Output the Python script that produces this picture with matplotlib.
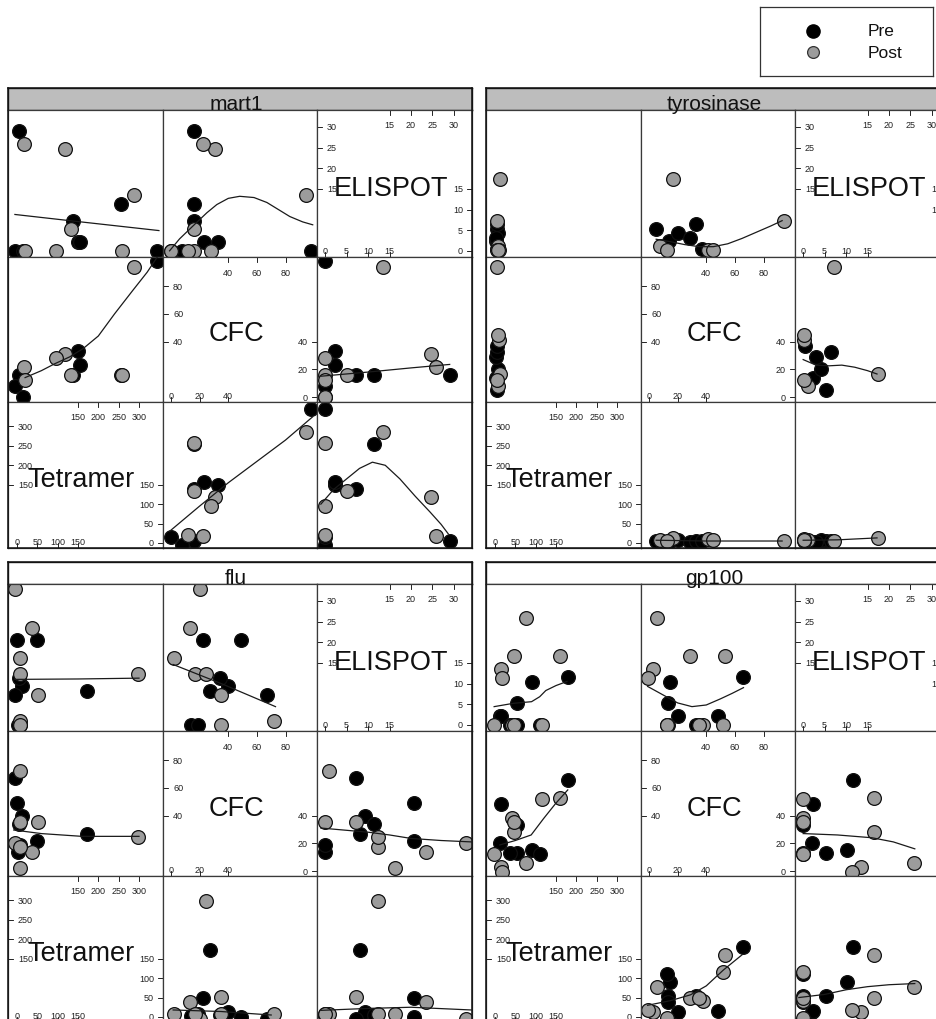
import numpy as np
import matplotlib
matplotlib.use("Agg")
import matplotlib.pyplot as plt

plt.rcParams['font.family'] = ['Liberation Sans', 'DejaVu Sans']

nan = np.nan

# ---------------- data ----------------
variables = ['Tetramer', 'CFC', 'ELISPOT']
groups = ['Pre', 'Post']

# mart1
mart1_group = ['Pre', 'Post', 'Post', 'Pre', 'Pre', 'Post', 'Pre', 'Pre',
               'Post', 'Post', 'Pre', 'Post', 'Pre', 'Pre', 'Post', 'Post']
mart1_tetramer = [345, 287, 258, 256, 138, 133, 149, 156, 118, 18, 4, 95, -6, 16, 20, nan]
mart1_cfc = [98, 94, 16, 16, 16, 16, 33, 23, 31, 22, 16, 28, 8, 0, 12, 0]
mart1_elispot = [0, 13.4, 0, 11.3, 7.1, 5.2, 2.2, 2.2, 24.6, 25.8, 29, 0, 0, 0, 0, 0]

# tyrosinase
tyr_group = ['Pre', 'Pre', 'Pre', 'Pre', 'Pre', 'Pre',
             'Post', 'Post', 'Post', 'Post', 'Post', 'Post']
tyr_tetramer = [5, 3, 8, 2, 6, 4, 6, 13, 8, 4, 10, 7]
tyr_cfc = [5, 13.7, 20, 28.8, 32.5, 37, 94, 16.6, 8, 12.5, 41, 45]
tyr_elispot = [5.3, 2.4, 4.2, 3.1, 6.4, 0.4, 7.2, 17.5, 1.2, 0.2, 0.3, 0.3]

# flu
flu_group = ['Pre'] * 8 + ['Post'] * 8
flu_tetramer = [0, 50, 12, 172, -5, 5, 3, 8, -5, 38, 7, 7, 298, 52, 7, 8]
flu_cfc = [49, 22, 40, 27, 67, 34, 14, 19, 20, 13.5, 2, 17, 24.5, 35, 72, 35]
flu_elispot = [20.6, 20.6, 9.3, 8.1, 7.1, 11.4, 0, 0, 32.9, 23.4, 16.3, 12.2, 12.2, 7.1, 1, 0]

# gp100
gp_group = ['Pre'] * 8 + ['Post'] * 9
gp_tetramer = [180, 90, 54, 12, 15, 55, 110, 38, 76, 48, 160, 14, 17, -3, 42, 115, 48]
gp_cfc = [65.7, 15, 13, 20, 48, 33, 12.5, 13, 5.5, 28.5, 53, 3, -1, 12.5, 38, 52, 35]
gp_elispot = [11.5, 10.3, 5.3, 2.1, 2.2, 0, 0, 0, 25.9, 16.6, 16.6, 13.5, 11.3, 0, 0, 0, 0]

# smoother curves (x values, y values), keyed (x variable, y variable)
mart1_fit_tet_eli = ([-5, 130, 349], [8.8, 7.3, 4.9])
mart1_fit_cfc_eli = ([-1, 6, 15, 25, 32, 40, 48, 58, 67, 75, 83, 92, 99],
                     [0, 2.9, 5.9, 9.2, 11.2, 12.7, 13.2, 12.9, 11.7, 10, 8.3, 7, 6.3])
mart1_fit_tet_cfc = ([20, 60, 93, 130, 163, 200, 240, 285, 320, 345],
                     [14, 19, 24, 29, 35, 44, 60, 77, 90, 101])
mart1_fit_cfc_tet = ([-1, 20, 40, 60, 80, 99], [30, 95, 155, 210, 265, 325])
mart1_fit_eli_cfc = ([-1, 10, 20, 29], [15, 18, 21, 23.5])
mart1_fit_eli_tet = ([-1, 2, 5, 8, 11, 14, 17.4, 21, 24.4, 27, 28.7],
                     [100, 138, 165, 192, 208, 200, 165, 120, 80, 48, 23])

tyr_fit_cfc_eli = ([5, 15, 25, 35, 45, 55, 65, 75, 85, 93],
                   [2.8, 2.2, 1.5, 1.0, 1.0, 1.7, 3, 4.5, 6, 7.3])
tyr_fit_eli_cfc = ([0, 3, 6, 9, 12, 15, 17.2], [27, 23, 22.5, 23, 21.5, 19, 16.6])
tyr_fit_cfc_tet = ([5, 40, 93], [7, 5, 5])
tyr_fit_eli_tet = ([0, 8, 17.2], [7, 8, 13])

flu_fit_tet_eli = ([-5, 150, 300], [11, 11.1, 11.3])
flu_fit_cfc_eli = ([1.5, 35, 73], [14.6, 10, 4.4])
flu_fit_tet_cfc = ([-8, 60, 160, 300], [29.6, 27, 25, 25])
flu_fit_eli_cfc = ([-1, 10, 15, 20, 27, 34], [31, 28, 26, 23.5, 22, 21])
flu_fit_cfc_tet = ([1.5, 35, 70], [18, 14, 5])
flu_fit_eli_tet = ([-1, 10, 20, 34], [17, 22, 25, 18])

gp_fit_tet_eli = ([-2, 45, 90, 110, 125, 150, 177], [4.4, 5.2, 5.6, 6.8, 8.3, 9.5, 10.5])
gp_fit_cfc_eli = ([-1, 10, 20, 30, 40, 50, 58, 66], [9.3, 7.2, 5.3, 4.4, 4.8, 6.3, 7.6, 9])
gp_fit_tet_cfc = ([12, 50, 89, 120, 150, 179], [18.8, 22, 26, 38, 49, 58.5])
gp_fit_eli_cfc = ([0, 8, 16, 21, 26], [27, 26, 24, 21, 16])
gp_fit_cfc_tet = ([-1, 15, 29, 40, 52, 65], [30, 42, 57, 80, 121, 160])
gp_fit_eli_tet = ([-1, 5, 10, 15, 20, 26], [50, 58, 70, 78, 83, 86])

# axis scales (shared by all panels)
xlims = {'Tetramer': (-22, 359), 'CFC': (-5.6, 102), 'ELISPOT': (-1.9, 34.2)}
ylims = {'Tetramer': (-13, 363), 'CFC': (-3.6, 101), 'ELISPOT': (-1.5, 34.1)}
diag_low = {'Tetramer': [0, 50, 100, 150], 'CFC': [0, 20, 40], 'ELISPOT': [0, 5, 10, 15]}
diag_high = {'Tetramer': [150, 200, 250, 300], 'CFC': [40, 60, 80], 'ELISPOT': [15, 20, 25, 30]}

# ---------------- styling / layout ----------------
W, H = 936, 1020
fig = plt.figure(figsize=(W / 100, H / 100), dpi=100)

colors = {'Pre': '#000000', 'Post': '#9c9c9c'}
rows_var = ['ELISPOT', 'CFC', 'Tetramer']   # y variable, top to bottom
cols_var = ['Tetramer', 'CFC', 'ELISPOT']   # x variable, left to right


def add_px_axes(x0, y0, x1, y1, **kw):
    return fig.add_axes([x0 / W, 1 - y1 / H, (x1 - x0) / W, (y1 - y0) / H], **kw)


panels = [
    dict(name='mart1', xs=[8, 163, 317, 472], strip=(89, 111), ys=[111, 258, 403, 549],
         strip_col='#bdbdbd', T=mart1_tetramer, C=mart1_cfc, E=mart1_elispot, G=mart1_group,
         fits={('Tetramer', 'ELISPOT'): mart1_fit_tet_eli, ('CFC', 'ELISPOT'): mart1_fit_cfc_eli,
               ('Tetramer', 'CFC'): mart1_fit_tet_cfc, ('CFC', 'Tetramer'): mart1_fit_cfc_tet,
               ('ELISPOT', 'CFC'): mart1_fit_eli_cfc, ('ELISPOT', 'Tetramer'): mart1_fit_eli_tet}),
    dict(name='tyrosinase', xs=[486, 641, 795, 950], strip=(89, 111), ys=[111, 258, 403, 549],
         strip_col='#bdbdbd', T=tyr_tetramer, C=tyr_cfc, E=tyr_elispot, G=tyr_group,
         fits={('CFC', 'ELISPOT'): tyr_fit_cfc_eli, ('ELISPOT', 'CFC'): tyr_fit_eli_cfc,
               ('CFC', 'Tetramer'): tyr_fit_cfc_tet, ('ELISPOT', 'Tetramer'): tyr_fit_eli_tet}),
    dict(name='flu', xs=[8, 163, 317, 472], strip=(563, 585), ys=[585, 732, 877, 1023],
         strip_col='#ffffff', T=flu_tetramer, C=flu_cfc, E=flu_elispot, G=flu_group,
         fits={('Tetramer', 'ELISPOT'): flu_fit_tet_eli, ('CFC', 'ELISPOT'): flu_fit_cfc_eli,
               ('Tetramer', 'CFC'): flu_fit_tet_cfc, ('CFC', 'Tetramer'): flu_fit_cfc_tet,
               ('ELISPOT', 'CFC'): flu_fit_eli_cfc, ('ELISPOT', 'Tetramer'): flu_fit_eli_tet}),
    dict(name='gp100', xs=[486, 641, 795, 950], strip=(563, 585), ys=[585, 732, 877, 1023],
         strip_col='#ffffff', T=gp_tetramer, C=gp_cfc, E=gp_elispot, G=gp_group,
         fits={('Tetramer', 'ELISPOT'): gp_fit_tet_eli, ('CFC', 'ELISPOT'): gp_fit_cfc_eli,
               ('Tetramer', 'CFC'): gp_fit_tet_cfc, ('CFC', 'Tetramer'): gp_fit_cfc_tet,
               ('ELISPOT', 'CFC'): gp_fit_eli_cfc, ('ELISPOT', 'Tetramer'): gp_fit_eli_tet}),
]

TICK_FS = 6.5
NAME_FS = 19.5
EDGE = '#3a3a3a'


def style_cell(ax):
    ax.set_xticks([])
    ax.set_yticks([])
    for s in ax.spines.values():
        s.set_color(EDGE)
        s.set_linewidth(0.9)


def draw_diag(ax, var, w, h):
    lo, hi = diag_low[var], diag_high[var]
    tx = ax.get_xaxis_transform()
    ty = ax.get_yaxis_transform()
    tl = 5.0
    for v in lo:
        ax.plot([v, v], [0, tl / h], transform=tx, color='k', lw=0.6, clip_on=False)
        ax.text(v, 6.5 / h, str(v), transform=tx, ha='center', va='center', fontsize=TICK_FS, color='#222222')
        ax.plot([1 - tl / w, 1], [v, v], transform=ty, color='k', lw=0.6, clip_on=False)
        ax.text(1 - 9 / w, v, str(v), transform=ty, ha='right', va='center', fontsize=TICK_FS, color='#222222')
    for v in hi:
        ax.plot([v, v], [1 - tl / h, 1], transform=tx, color='k', lw=0.6, clip_on=False)
        ax.text(v, 1 - 15 / h, str(v), transform=tx, ha='center', va='center', fontsize=TICK_FS, color='#222222')
        ax.plot([0, tl / w], [v, v], transform=ty, color='k', lw=0.6, clip_on=False)
        ax.text(10 / w, v, str(v), transform=ty, ha='left', va='center', fontsize=TICK_FS, color='#222222')
    ax.text(0.5 - 4 / w, 0.5 - 4 / h, var, transform=ax.transAxes, ha='center', va='center',
            fontsize=NAME_FS, color='#111111')


for p in panels:
    xs, ys = p['xs'], p['ys']
    data = {'Tetramer': np.array(p['T'], float), 'CFC': np.array(p['C'], float),
            'ELISPOT': np.array(p['E'], float)}
    grp = np.array(p['G'])
    # strip
    sax = add_px_axes(xs[0], p['strip'][0], xs[3], p['strip'][1])
    sax.set_facecolor(p['strip_col'])
    sax.set_xticks([])
    sax.set_yticks([])
    for s in sax.spines.values():
        s.set_color('#222222')
        s.set_linewidth(1.0)
    for r in range(3):
        for c in range(3):
            ax = add_px_axes(xs[c], ys[r], xs[c + 1], ys[r + 1])
            xv, yv = cols_var[c], rows_var[r]
            ax.set_xlim(*xlims[xv])
            ax.set_ylim(*ylims[yv])
            style_cell(ax)
            w = xs[c + 1] - xs[c]
            h = ys[r + 1] - ys[r]
            if xv == yv:
                draw_diag(ax, xv, w, h)
                continue
            for g in groups:
                m = grp == g
                ax.scatter(data[xv][m], data[yv][m], s=98, c=colors[g], edgecolors='#111111',
                           linewidths=0.9, zorder=2)
            fit = p['fits'].get((xv, yv))
            if fit is not None:
                ax.plot(fit[0], fit[1], color='#1a1a1a', lw=0.9, zorder=3)
    # outer border
    bax = add_px_axes(xs[0], p['strip'][0], xs[3], ys[3])
    bax.set_facecolor('none')
    bax.set_xticks([])
    bax.set_yticks([])
    for s in bax.spines.values():
        s.set_color('#111111')
        s.set_linewidth(1.1)
    # strip label drawn on top so descenders are not hidden
    fig.text((xs[0] + 228) / W, 1 - (p['strip'][1] - 0.5) / H, p['name'], ha='center',
             va='baseline', fontsize=15, color='#111111')

# legend
lax = add_px_axes(760, 8, 933, 77)
lax.set_xlim(760, 933)
lax.set_ylim(77, 8)
lax.set_xticks([])
lax.set_yticks([])
for s in lax.spines.values():
    s.set_color('#333333')
    s.set_linewidth(0.9)
lax.plot([813], [32], 'o', ms=9.5, mfc='#000000', mec='#000000')
lax.plot([813], [53], 'o', ms=8.5, mfc=colors['Post'], mec='#333333', mew=0.9)
lax.text(868, 32, 'Pre', ha='left', va='center', fontsize=12.5, color='#111111')
lax.text(868, 54, 'Post', ha='left', va='center', fontsize=12.5, color='#111111')

fig.savefig('out.png', dpi=100)
